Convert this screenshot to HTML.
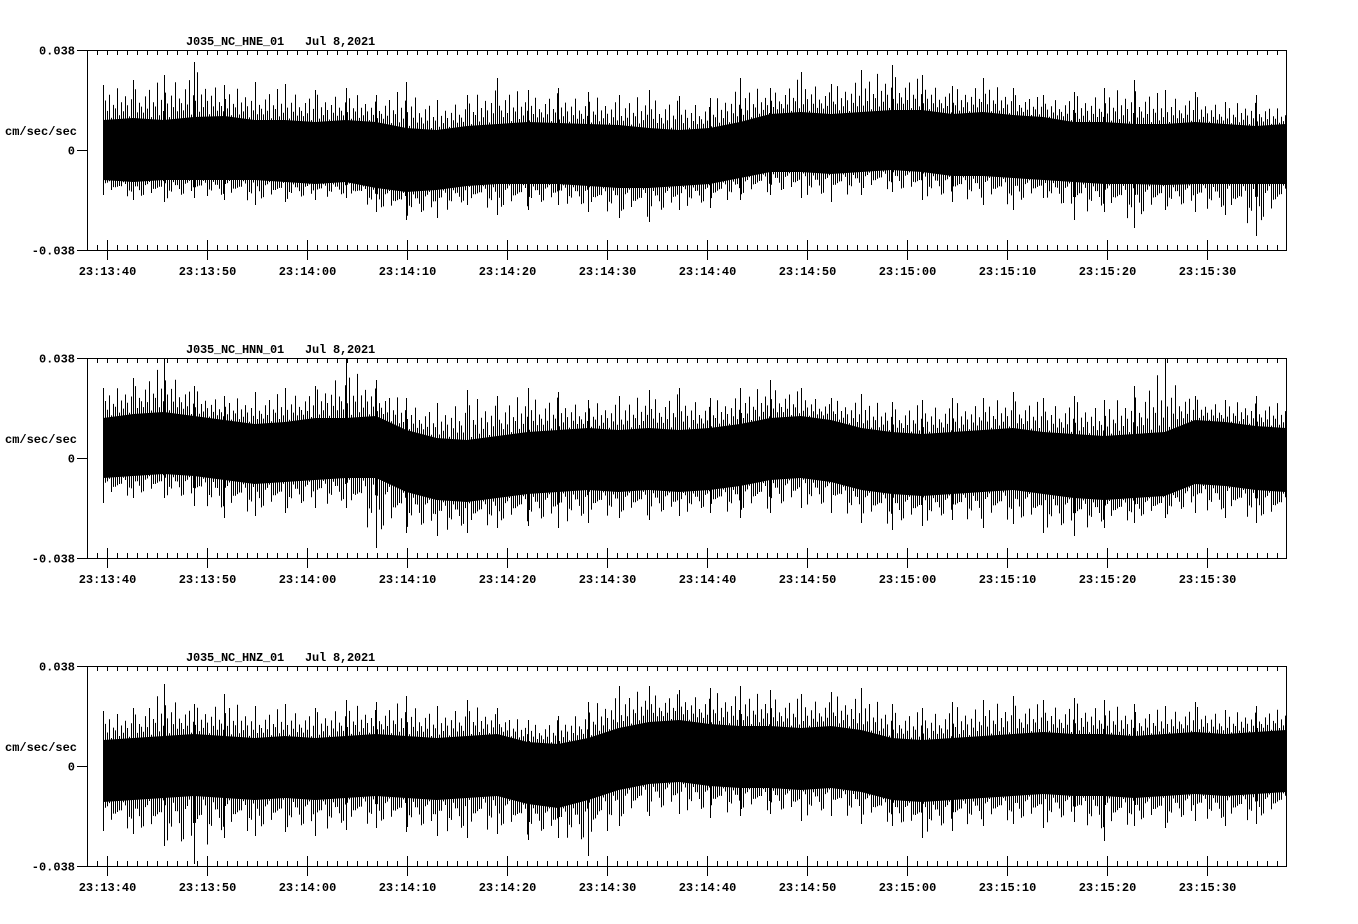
<!DOCTYPE html>
<html><head><meta charset="utf-8"><style>
html,body{margin:0;padding:0;background:#fff;}
svg{display:block;}
text{font-family:"Liberation Mono",monospace;font-weight:bold;font-size:12px;fill:#000;}
</style></head><body>
<svg id="chart" width="1358" height="924" viewBox="0 0 1358 924" xmlns="http://www.w3.org/2000/svg"></svg>
<script>
// Amplitudes in % of full scale (full scale = 0.038 cm/sec/sec); 40 samples per trace, evenly spaced in time
const channels = ["J035_NC_HNE_01","J035_NC_HNN_01","J035_NC_HNZ_01"];
const dateLabel = "Jul 8,2021";
const tickLabels = ["23:13:40","23:13:50","23:14:00","23:14:10","23:14:20","23:14:30","23:14:40","23:14:50","23:15:00","23:15:10","23:15:20","23:15:30"];
const yTickLabels = ["0.038","0","-0.038"];
const yTickValues = [100,0,-100];

const hneCoreHi = [30,32,30,33,34,30,30,28,30,28,22,20,24,26,28,27,26,25,22,20,22,28,36,38,36,38,40,40,36,38,35,33,28,28,26,26,28,26,24,26];
const hneCoreLo = [-30,-32,-30,-30,-30,-30,-32,-34,-32,-38,-42,-40,-36,-34,-34,-34,-36,-38,-38,-36,-34,-28,-22,-22,-24,-22,-20,-22,-26,-26,-28,-30,-32,-34,-34,-35,-34,-34,-34,-34];
const hnePeakHi = [65,70,75,88,65,68,66,60,62,55,68,50,55,72,60,62,58,55,60,54,52,72,62,78,66,80,85,75,64,72,62,55,58,62,70,60,58,48,55,40];
const hnePeakLo = [-45,-50,-52,-48,-50,-55,-52,-50,-48,-62,-70,-68,-55,-65,-60,-55,-62,-68,-72,-60,-58,-50,-45,-48,-52,-45,-42,-50,-52,-55,-60,-48,-70,-62,-78,-60,-62,-65,-86,-64];

const hnnCoreHi = [40,44,46,42,38,34,36,40,40,42,28,20,18,22,26,28,30,28,30,28,30,34,40,42,38,30,26,24,26,28,30,26,24,22,24,26,38,36,32,30];
const hnnCoreLo = [-20,-18,-16,-18,-22,-26,-24,-22,-20,-20,-34,-42,-44,-40,-36,-34,-32,-34,-32,-34,-32,-28,-22,-20,-24,-32,-36,-38,-36,-34,-32,-36,-40,-42,-40,-38,-26,-28,-32,-34];
const hnnPeakHi = [70,80,100,72,62,66,70,72,100,78,60,55,68,62,70,66,58,62,68,70,60,70,78,70,60,64,56,58,60,60,66,60,62,58,72,100,62,58,62,58];
const hnnPeakLo = [-45,-40,-40,-48,-60,-58,-55,-50,-50,-90,-75,-78,-75,-70,-68,-70,-65,-60,-62,-58,-55,-60,-55,-50,-55,-65,-72,-68,-62,-70,-66,-75,-78,-70,-65,-60,-55,-60,-65,-70];

const hnzCoreHi = [26,28,30,32,30,28,30,28,30,32,30,28,30,32,24,22,28,38,44,46,42,40,40,38,40,36,28,26,28,30,32,34,32,32,30,32,34,32,34,36];
const hnzCoreLo = [-36,-34,-32,-30,-32,-34,-32,-34,-32,-30,-32,-34,-32,-30,-38,-42,-34,-24,-18,-16,-20,-22,-22,-24,-22,-26,-34,-36,-34,-32,-30,-28,-30,-30,-32,-30,-28,-30,-28,-26];
const hnzPeakHi = [55,58,82,62,72,60,62,58,66,64,70,60,66,58,46,50,64,80,80,76,78,80,76,72,74,78,62,58,64,66,70,66,68,66,62,60,64,56,60,60];
const hnzPeakLo = [-65,-68,-80,-98,-72,-70,-66,-70,-64,-62,-66,-70,-72,-68,-74,-72,-90,-60,-50,-48,-52,-50,-48,-55,-50,-58,-60,-72,-65,-60,-58,-62,-56,-75,-60,-62,-55,-60,-58,-50];

const traces = [
  {hi:hneCoreHi, lo:hneCoreLo, ph:hnePeakHi, pl:hnePeakLo},
  {hi:hnnCoreHi, lo:hnnCoreLo, ph:hnnPeakHi, pl:hnnPeakLo},
  {hi:hnzCoreHi, lo:hnzCoreLo, ph:hnzPeakHi, pl:hnzPeakLo}
];
// fixed rendering texture (fraction of the core-to-peak gap reached by each drawn wiggle)
const texture = [0.15,0.55,0.25,0.7,0.05,0.4,0.3,0.85,0.1,0.45,0.2,0.6,0.35,0.05,0.5,0.25,0.75,0.15,0.4,0.3];

const NS = "http://www.w3.org/2000/svg";
const svg = document.getElementById("chart");
function mk(tag, attrs, parent){
  const e = document.createElementNS(NS, tag);
  for (const k in attrs) e.setAttribute(k, attrs[k]);
  (parent||svg).appendChild(e);
  return e;
}
const X0 = 87, X1 = 1286, DATA_X0 = 103;
const panelTops = [50, 358, 666];
function xScale(sec){ return 107 + sec*10; }

panelTops.forEach((top, p) => {
  const mid = top + 100;
  const yScale = v => mid - v;
  const g = mk("g", {});
  
  

  const tr = traces[p];
  const n = tr.hi.length;
  const step = (X1 - DATA_X0) / (n - 1);
  const at = (arr, x) => {
    const f = (x - DATA_X0) / step;
    const i = Math.min(n - 2, Math.max(0, Math.floor(f)));
    const t = Math.min(1, Math.max(0, f - i));
    return arr[i] * (1 - t) + arr[i + 1] * t;
  };
  let pts = [];
  for (let i = 0; i < n; i++) pts.push((DATA_X0 + i*step).toFixed(1) + "," + yScale(tr.hi[i]));
  for (let i = n-1; i >= 0; i--) pts.push((DATA_X0 + i*step).toFixed(1) + "," + yScale(tr.lo[i]));
  const band = mk("polygon", {points: pts.join(" "), fill: "#000"}, g);
  
  
  let d = "";
  let k = 0;
  for (let x = DATA_X0; x <= X1; x += 2, k++) {
    const fu = texture[k % texture.length];
    const fl = texture[(k * 7 + 3) % texture.length];
    const ch = at(tr.hi, x), cl = at(tr.lo, x);
    const uh = ch + (at(tr.ph, x) - ch) * fu;
    const ul = cl + (at(tr.pl, x) - cl) * fl;
    d += "M" + (x + 0.5) + " " + yScale(uh).toFixed(1) + "V" + yScale(ul).toFixed(1);
  }
  const wig = mk("path", {d: d, stroke: "#000", "stroke-width": 1, fill: "none"}, g);
  
  
  for (let i = 0; i < n; i++) {
    const x = Math.round(DATA_X0 + i*step) + 0.5;
    const l = mk("line", {x1:x, x2:x, y1:yScale(tr.ph[i]), y2:yScale(tr.pl[i]), stroke:"#000", "stroke-width":1}, g);
    
    
  }
  const fr = mk("rect", {x:X0+0.5, y:top+0.5, width:X1-X0, height:200, fill:"none", stroke:"#000", "stroke-width":1}, g);
  
  
  for (let s = -2; s <= 117; s++) {
    const x = Math.round(xScale(s)) + 0.5;
    if (x > X1) break;
    mk("line", {x1:x, x2:x, y1:top, y2:top+5, stroke:"#000"}, g);
    mk("line", {x1:x, x2:x, y1:top+200, y2:top+195, stroke:"#000"}, g);
  }
  tickLabels.forEach((lab, k) => {
    const x = Math.round(xScale(k*10)) + 0.5;
    mk("line", {x1:x, x2:x, y1:top+190, y2:top+210, stroke:"#000"}, g);
    const t = mk("text", {x:x, y:top+225, "text-anchor":"middle"}, g);
    t.textContent = lab;
    
    
  });
  yTickValues.forEach((v, k) => {
    const y = yScale(v) + 0.5;
    mk("line", {x1:77, x2:X0, y1:y, y2:y, stroke:"#000"}, g);
    const t = mk("text", {x:75, y:y+4, "text-anchor":"end"}, g);
    t.textContent = yTickLabels[k];
    
    
  });
  const yl = mk("text", {x:5, y:top+85}, g);
  yl.textContent = "cm/sec/sec";
  
  
  const tt = mk("text", {x:186, y:top-5, "letter-spacing":"-0.2"}, g);
  tt.textContent = channels[p] + "   " + dateLabel;
  tt.setAttribute("xml:space", "preserve");
  tt.style.whiteSpace = "pre";
  
  
});
</script>
</body></html>
